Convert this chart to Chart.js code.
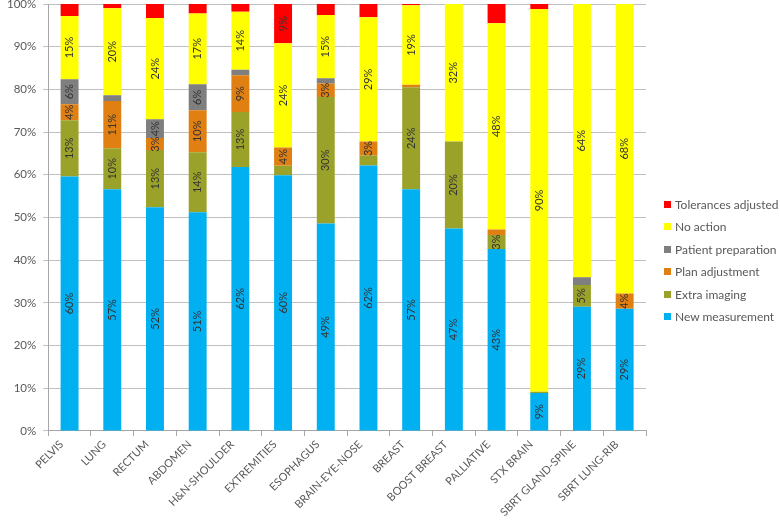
<!DOCTYPE html>
<html>
<head>
<meta charset="utf-8">
<script src="https://cdn.jsdelivr.net/npm/chart.js@4/dist/chart.umd.min.js"></script>
<style>
  html, body { margin: 0; padding: 0; background: #fff; }
  #wrap { position: relative; width: 780px; height: 521px; }
  #legend { position: absolute; left: 664px; top: 193px; font: 12px Lato, "Open Sans", sans-serif; color: #595959; }
  .legend-item { display: flex; align-items: center; height: 22.5px; white-space: nowrap; }
  .legend-swatch { width: 7px; height: 7px; margin-right: 4px; }
</style>
</head>
<body>
<div id="wrap">
  <canvas id="c" width="780" height="521"></canvas>
  <div id="legend"></div>
</div>
<script>
// categories (x axis)
const categories = ['PELVIS', 'LUNG', 'RECTUM', 'ABDOMEN', 'H&N-SHOULDER', 'EXTREMITIES', 'ESOPHAGUS',
  'BRAIN-EYE-NOSE', 'BREAST', 'BOOST BREAST', 'PALLIATIVE', 'STX BRAIN', 'SBRT GLAND-SPINE', 'SBRT LUNG-RIB'];

// share of each action, percent (stacked bottom to top)
const newMeasurement  = [59.6, 56.6, 52.4, 51.2, 61.8, 59.9, 48.6, 62.2, 56.6, 47.4, 42.6, 8.9, 29.1, 28.6];
const extraImaging    = [13.2,  9.6, 13.4, 14.1, 12.9,  2.2, 29.6,  2.3, 23.9, 20.4,  3.3, 0.3,  5.1,  0];
const planAdjustment  = [ 3.7, 11.1,  2.8,  9.8,  8.6,  4.3,  3.2,  3.3,  0.6,  0,    1.3, 0,    0,    3.6];
const patientPrep     = [ 5.9,  1.3,  4.4,  6.1,  1.3,  0,    1.2,  0,    0,    0,    0,   0,    1.8,  0];
const noAction        = [14.8, 20.4, 23.7, 16.6, 13.6, 24.4, 14.8, 29.1, 18.6, 32.2, 48.3, 89.6, 64.0, 67.8];
const tolerancesAdj   = [ 2.8,  1.0,  3.3,  2.2,  1.8,  9.2,  2.6,  3.1,  0.3,  0,    4.5, 1.2,  0,    0];

// y axis ticks
const yTicks = [0, 10, 20, 30, 40, 50, 60, 70, 80, 90, 100];

const series = [
  { label: 'New measurement',     data: newMeasurement, color: '#00B0F0', minLabel: 2.5 },
  { label: 'Extra imaging',       data: extraImaging,   color: '#9AA22A', minLabel: 2.5 },
  { label: 'Plan adjustment',     data: planAdjustment, color: '#E07F12', minLabel: 2.5 },
  { label: 'Patient preparation', data: patientPrep,    color: '#7F7F7F', minLabel: 2.5 },
  { label: 'No action',           data: noAction,       color: '#FFFF00', minLabel: 2.5 },
  { label: 'Tolerances adjusted', data: tolerancesAdj,  color: '#FF0000', minLabel: 5 }
];

const FONT = 'Lato, "Open Sans", sans-serif';

// rotated value labels centred in each segment
const segLabels = {
  id: 'segLabels',
  afterDatasetsDraw(chart) {
    const ctx = chart.ctx;
    ctx.save();
    ctx.font = '11px ' + FONT;
    ctx.fillStyle = '#333';
    ctx.textAlign = 'center';
    ctx.textBaseline = 'middle';
    chart.data.datasets.forEach((ds, di) => {
      const meta = chart.getDatasetMeta(di);
      meta.data.forEach((bar, i) => {
        const v = ds.data[i];
        if (v < series[di].minLabel) return;
        ctx.save();
        ctx.translate(bar.x, (bar.y + bar.base) / 2);
        ctx.rotate(-Math.PI / 2);
        ctx.fillText(Math.round(v) + '%', 0, 0);
        ctx.restore();
      });
    });
    ctx.restore();
  }
};

new Chart(document.getElementById('c').getContext('2d'), {
  type: 'bar',
  data: {
    labels: categories,
    datasets: series.map(s => ({
      label: s.label,
      data: s.data,
      backgroundColor: s.color,
      borderWidth: 0,
      categoryPercentage: 1,
      barPercentage: 0.42
    }))
  },
  options: {
    responsive: false,
    animation: false,
    layout: { padding: { left: 0, right: 134, top: 4, bottom: 0 } },
    plugins: { legend: { display: false }, tooltip: { enabled: false } },
    scales: {
      x: {
        stacked: true,
        grid: { drawOnChartArea: false, drawTicks: true, tickLength: 5, color: '#A6A6A6' },
        border: { color: '#A6A6A6' },
        ticks: { color: '#595959', font: { size: 11, family: FONT }, minRotation: 45, maxRotation: 45, autoSkip: false, padding: 2, labelOffset: -8 }
      },
      y: {
        stacked: true,
        min: 0,
        max: 100,
        afterBuildTicks(axis) { axis.ticks = yTicks.map(v => ({ value: v })); },
        afterFit(axis) { axis.paddingTop = 0; },
        grid: { color: '#BFBFBF', tickLength: 5 },
        border: { color: '#A6A6A6' },
        ticks: { color: '#595959', font: { size: 11.5, family: FONT }, padding: 7, callback: v => v + '%' }
      }
    }
  },
  plugins: [segLabels]
});

// legend (top of stack first)
document.getElementById('legend').innerHTML = series.slice().reverse().map(s =>
  `<div class="legend-item"><span class="legend-swatch" style="background:${s.color}"></span>${s.label}</div>`
).join('');
</script>
</body>
</html>
